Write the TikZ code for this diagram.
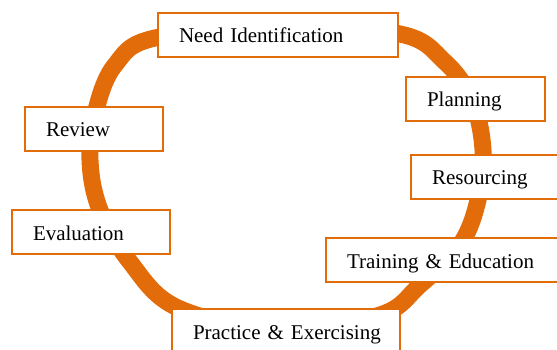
\documentclass[tikz,border=0pt]{standalone}
\usepackage{fontspec}
\setmainfont{Liberation Serif}
\definecolor{ringorange}{RGB}{227,108,10}
\begin{document}
\begin{tikzpicture}[x=1pt,y=-1pt,
  stage/.style={draw=ringorange, line width=2pt, fill=white, anchor=north west,
    inner xsep=21pt, inner ysep=0pt, text height=30pt, text depth=14pt,
    align=left, font=\fontsize{21}{25}\selectfont},
  ring/.style={draw=ringorange, line width=17pt}]
\useasboundingbox (0,0) rectangle (557,350);
\clip (0,0) rectangle (557,350);

% the cycle loop running behind the stages
\draw[ring] plot[smooth cycle, tension=0.6] coordinates {
  (280,28) (400,34) (445,62) (472,100) (483,150) (478,200) (460,245)
  (420,285) (380,315) (280,330) (178,308) (130,262) (100,210) (90,160)
  (96,110) (115,65) (155,38)};

% stages of the cycle
\node[stage, text width=198pt] (need)  at (157,12)  {\mbox{Need Identification}};
\node[stage, text width=97pt]  (plan)  at (405,76)  {\mbox{Planning}};
\node[stage, text width=160pt] (res)   at (410,154) {\mbox{Resourcing}};
\node[stage, text width=220pt] (train) at (325,237) {\mbox{Training \& Education}};
\node[stage, text width=186pt] (prac)  at (171,308) {\mbox{Practice \& Exercising}};
\node[stage, text width=116pt] (eval)  at (11,209)  {\mbox{Evaluation}};
\node[stage, text width=96pt]  (rev)   at (24,106)  {\mbox{Review}};
\end{tikzpicture}
\end{document}
